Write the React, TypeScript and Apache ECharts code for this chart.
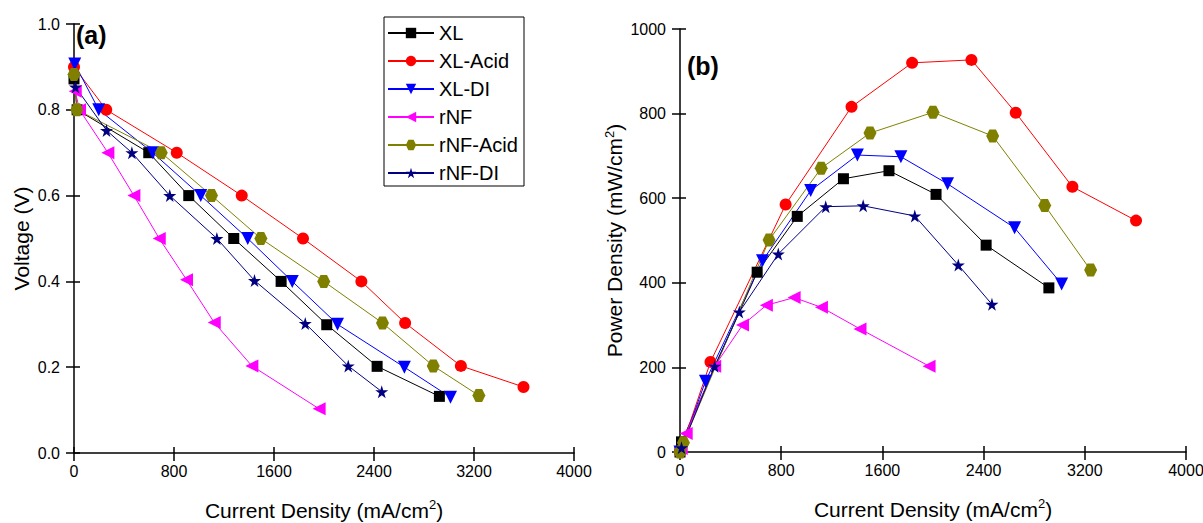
import React, { useEffect, useRef } from "react";
import * as echarts from "echarts";

// ---------- data ----------
const seriesNames = ["XL", "XL-Acid", "XL-DI", "rNF", "rNF-Acid", "rNF-DI"];
const seriesColors = ["#000000", "#ff0000", "#0000ff", "#ff00ff", "#808000", "#000080"];

// (a) Voltage vs current density  [mA/cm2, V]
const voltXL = [[0, 0.872], [25, 0.8], [598, 0.7], [918, 0.6], [1278, 0.5], [1657, 0.4], [2022, 0.299], [2425, 0.202], [2923, 0.132]];
const voltXLAcid = [[0, 0.9], [258, 0.8], [822, 0.7], [1342, 0.6], [1832, 0.5], [2299, 0.4], [2649, 0.303], [3095, 0.203], [3596, 0.154]];
const voltXLDI = [[6, 0.907], [198, 0.8], [630, 0.7], [1014, 0.6], [1390, 0.5], [1746, 0.4], [2108, 0.3], [2643, 0.2], [3012, 0.13]];
const voltRNF = [[10, 0.843], [44, 0.8], [271, 0.7], [479, 0.6], [682, 0.5], [900, 0.404], [1122, 0.304], [1423, 0.203], [1961, 0.103]];
const voltRNFAcid = [[0, 0.882], [23, 0.8], [698, 0.7], [1100, 0.6], [1495, 0.5], [1998, 0.4], [2468, 0.303], [2874, 0.203], [3239, 0.134]];
const voltRNFDI = [[12, 0.853], [260, 0.752], [463, 0.7], [766, 0.6], [1143, 0.5], [1444, 0.402], [1850, 0.302], [2194, 0.203], [2462, 0.143]];

// (b) Power density vs current density  [mA/cm2, mW/cm2]
const powXL = [[0, 0], [12, 24], [610, 425], [927, 557], [1292, 646], [1652, 665], [2024, 609], [2420, 489], [2916, 388]];
const powXLAcid = [[0, 0], [241, 213], [835, 585], [1356, 816], [1835, 920], [2304, 927], [2654, 802], [3102, 627], [3605, 547]];
const powXLDI = [[0, 0], [201, 167], [652, 452], [1033, 618], [1402, 702], [1746, 698], [2115, 634], [2645, 530], [3017, 397]];
const powRNF = [[10, 8], [49, 44], [274, 203], [494, 300], [683, 347], [902, 365], [1118, 342], [1423, 291], [1969, 203]];
const powRNFAcid = [[0, 0], [27, 22], [704, 501], [1116, 671], [1502, 754], [2000, 803], [2472, 747], [2883, 583], [3246, 430]];
const powRNFDI = [[12, 10], [274, 203], [469, 331], [777, 468], [1152, 580], [1448, 582], [1856, 558], [2200, 442], [2466, 349]];

const voltData = [voltXL, voltXLAcid, voltXLDI, voltRNF, voltRNFAcid, voltRNFDI];
const powData = [powXL, powXLAcid, powXLDI, powRNF, powRNFAcid, powRNFDI];

// ---------- styling ----------
const FONT = "Liberation Sans, Arial, sans-serif";
const HEX = "path://M0,5 L2.5,0.67 L7.5,0.67 L10,5 L7.5,9.33 L2.5,9.33 Z";
const STAR = "path://M50,0 L61,35 L98,35 L68,57 L79,91 L50,70 L21,91 L32,57 L2,35 L39,35 Z";
const symbols = [
  { symbol: "rect", size: 11, rotate: 0 },
  { symbol: "circle", size: 12, rotate: 0 },
  { symbol: "triangle", size: 13, rotate: 180 },
  { symbol: "triangle", size: 13, rotate: 90 },
  { symbol: HEX, size: 13, rotate: 0 },
  { symbol: STAR, size: 13, rotate: 0 },
];

const richName = {
  sup: { fontSize: 13, lineHeight: 13, verticalAlign: "top", fontFamily: FONT, color: "#000" },
};

function xAxes(gridIndex: number) {
  const base = { type: "value", gridIndex, min: 0, max: 4000, interval: 800, position: "bottom", splitLine: { show: false } };
  return [
    {
      ...base,
      axisLine: { show: true, onZero: false, lineStyle: { color: "#000", width: 1.5 } },
      axisTick: { show: true, length: 8, lineStyle: { color: "#000", width: 1.5 } },
      axisLabel: { color: "#000", fontSize: 16, fontFamily: FONT, margin: 10, formatter: (v: number) => String(v) },
      name: "Current Density (mA/cm{sup|2})",
      nameLocation: "middle",
      nameGap: 45,
      nameTextStyle: { color: "#000", fontSize: 21, fontFamily: FONT, lineHeight: 24, rich: richName },
    },
    {
      ...base,
      axisLine: { show: false, onZero: false },
      axisTick: { show: true, inside: true, length: 6, lineStyle: { color: "#000", width: 1.5 } },
      axisLabel: { show: false },
    },
  ];
}

function yAxes(gridIndex: number, max: number, interval: number, digits: number, name: string, gap: number) {
  const base = { type: "value", gridIndex, min: 0, max, interval, position: "left", splitLine: { show: false } };
  return [
    {
      ...base,
      axisLine: { show: true, onZero: false, lineStyle: { color: "#000", width: 1.5 } },
      axisTick: { show: true, length: 8, lineStyle: { color: "#000", width: 1.5 } },
      axisLabel: { color: "#000", fontSize: 16, fontFamily: FONT, margin: 14, formatter: (v: number) => v.toFixed(digits) },
      name,
      nameLocation: "middle",
      nameGap: gap,
      nameTextStyle: { color: "#000", fontSize: 21, fontFamily: FONT, lineHeight: 24, rich: richName },
    },
    {
      ...base,
      axisLine: { show: false, onZero: false },
      axisTick: { show: true, inside: true, length: 6, lineStyle: { color: "#000", width: 1.5 } },
      axisLabel: { show: false },
    },
  ];
}

function makeSeries(datasets: number[][][], xAxisIndex: number, yAxisIndex: number) {
  return datasets.map((d, i) => ({
    type: "line",
    name: seriesNames[i],
    xAxisIndex,
    yAxisIndex,
    data: d,
    symbol: symbols[i].symbol,
    symbolSize: symbols[i].size,
    symbolRotate: symbols[i].rotate,
    showAllSymbol: true,
    lineStyle: { color: seriesColors[i], width: 1 },
    itemStyle: { color: seriesColors[i], borderWidth: 0 },
    emphasis: { disabled: true },
  }));
}

export default function App() {
  const ref = useRef<HTMLDivElement>(null);
  useEffect(() => {
    if (!ref.current) return;
    const chart = echarts.init(ref.current, undefined, { renderer: "svg" });
    const option: any = {
      animation: false,
      backgroundColor: "#ffffff",
      color: seriesColors,
      grid: [
        { left: 74, top: 24, width: 500, height: 429, containLabel: false, outerBoundsMode: "none" },
        { left: 680, top: 29, width: 506, height: 423, containLabel: false, outerBoundsMode: "none" },
      ],
      xAxis: [...xAxes(0), ...xAxes(1)],
      yAxis: [
        ...yAxes(0, 1.0, 0.2, 1, "Voltage (V)", 40),
        ...yAxes(1, 1000, 200, 0, "Power Density (mW/cm{sup|2})", 48),
      ],
      legend: {
        data: seriesNames,
        orient: "vertical",
        left: 387,
        top: 23,
        padding: 0,
        itemWidth: 46,
        itemHeight: 13,
        itemGap: 8,
        textStyle: { color: "#000", fontSize: 20, fontFamily: FONT },
        selectedMode: false,
        z: 10,
      },
      graphic: [
        {
          type: "rect",
          z: 5,
          shape: { x: 384, y: 17, width: 140, height: 169 },
          style: { fill: "#fff", stroke: "#000", lineWidth: 1 },
        },
        {
          type: "text",
          left: 76,
          top: 22,
          style: { text: "(a)", fontSize: 25, fontWeight: "bold", fontFamily: FONT, fill: "#000" },
        },
        {
          type: "text",
          left: 687,
          top: 53,
          style: { text: "(b)", fontSize: 25, fontWeight: "bold", fontFamily: FONT, fill: "#000" },
        },
      ],
      series: [...makeSeries(voltData, 0, 0), ...makeSeries(powData, 2, 2)],
    };
    chart.setOption(option);
    return () => chart.dispose();
  }, []);
  return (
    <div
      ref={ref}
      style={{ position: "fixed", left: 0, top: 0, width: 1203, height: 523, background: "#fff" }}
    />
  );
}
